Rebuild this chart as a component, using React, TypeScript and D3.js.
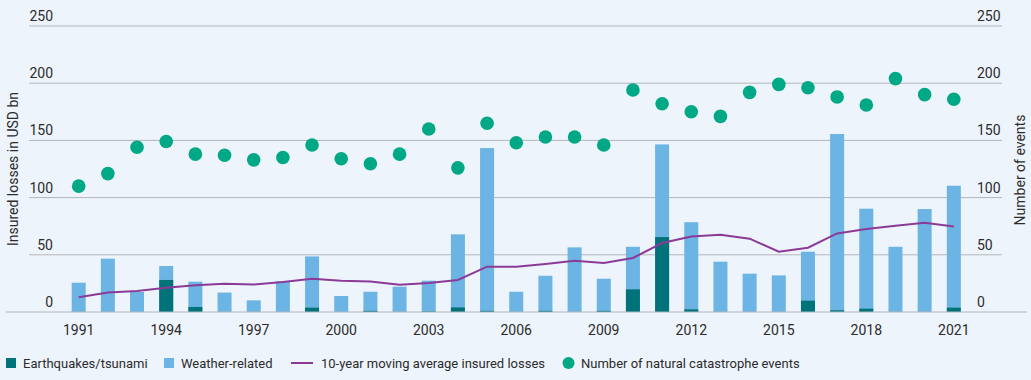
import React from "react";
import * as d3 from "d3";

const years = d3.range(1991, 2022);
const quake = [0, 0, 0, 28, 4.4, 0, 0, 0, 3.8, 0, 1, 0, 0.5, 4, 1, 0, 1, 0, 1, 19.8, 65.5, 2.3, 0, 0, 0, 9.9, 1.5, 2.9, 0, 0, 3.8];
const total = [25.6, 46.6, 17.5, 40.2, 26.5, 17, 10.2, 26.8, 48.6, 14, 17.7, 22.1, 27.4, 67.9, 143.3, 17.7, 31.7, 56.5, 29.1, 57, 146.5, 78.5, 44, 33.5, 32, 52.7, 155.6, 90.3, 57, 90, 110.4];
const movingAvg = [12.8, 17.1, 18.3, 21.2, 23.3, 24.7, 24.1, 26.2, 29.1, 27.4, 26.7, 23.9, 25.3, 28, 39.6, 39.6, 42, 44.8, 42.8, 47.2, 60.3, 66, 67.6, 64.1, 52.7, 56.2, 68.7, 72.5, 75.4, 78, 74.8];
const events = [110, 121, 144, 149, 138, 137, 133, 135, 146, 134, 129.6, 138, 160, 126, 165, 148, 153, 153, 146, 194, 182, 175, 171, 192, 199, 196, 188, 181, 204, 190, 186];
const yTicks = [0, 50, 100, 150, 200, 250];
const xTickYears = [1991, 1994, 1997, 2000, 2003, 2006, 2009, 2012, 2015, 2018, 2021];

const C = {
  bg: "#EEF4FC",
  weather: "#6CB4E4",
  quake: "#00737A",
  dot: "#00A886",
  line: "#8B3A98",
  grid: "#B4B6BA",
  text: "#2B2B2B",
};

const FONT = "Roboto, 'Liberation Sans', Arial, sans-serif";

export default function App() {
  const W = 1031, H = 380;
  const x = d3.scaleBand<number>().domain(years).range([64.1, 968.4]).paddingInner(0.52).paddingOuter(0.26);
  const y = d3.scaleLinear().domain([0, 250]).range([312, 26]);
  const cx = (yr: number) => (x(yr) as number) + x.bandwidth() / 2;
  const line = d3.line<number>().x((_, i) => cx(years[i])).y((d) => y(d));

  return (
    <svg width={W} height={H} style={{ position: "absolute", left: 0, top: 0, background: C.bg }} fontFamily={FONT}>
      <rect width={W} height={H} fill={C.bg} />
      {yTicks.map((t) => (
        <g key={t}>
          {t > 0 && <line x1={29} x2={1002} y1={y(t)} y2={y(t)} stroke={C.grid} strokeWidth={1} />}
          <text x={53} y={y(t) - 5} textAnchor="end" fontSize={14} fill={C.text}>{t}</text>
          <text x={977} y={y(t) - 5} textAnchor="start" fontSize={14} fill={C.text}>{t}</text>
        </g>
      ))}
      {years.map((yr, i) => (
        <g key={yr}>
          <rect x={x(yr)} width={x.bandwidth()} y={y(total[i])} height={y(0) - y(total[i])} fill={C.weather} />
          {quake[i] > 0 && (
            <rect x={x(yr)} width={x.bandwidth()} y={y(quake[i])} height={y(0) - y(quake[i])} fill={C.quake} />
          )}
        </g>
      ))}
      <line x1={6} x2={1027} y1={y(0)} y2={y(0)} stroke={C.grid} strokeWidth={1.2} />
      <path d={line(movingAvg) || ""} fill="none" stroke={C.line} strokeWidth={2} />
      {years.map((yr, i) => (
        <circle key={yr} cx={cx(yr)} cy={y(events[i])} r={6.8} fill={C.dot} />
      ))}
      {xTickYears.map((yr) => (
        <text key={yr} x={cx(yr)} y={335} textAnchor="middle" fontSize={14} fill={C.text}>{yr}</text>
      ))}
      <text transform={`translate(18,169) rotate(-90)`} textAnchor="middle" fontSize={14} fill={C.text}>Insured losses in USD bn</text>
      <text transform={`translate(1025,170) rotate(-90)`} textAnchor="middle" fontSize={14} fill={C.text}>Number of events</text>
      <g fontSize={13} fill={C.text}>
        <rect x={6} y={358} width={10} height={10} fill={C.quake} />
        <text x={23} y={367.5}>Earthquakes/tsunami</text>
        <rect x={164} y={358} width={10} height={10} fill={C.weather} />
        <text x={181} y={367.5}>Weather-related</text>
        <line x1={291} x2={313} y1={363} y2={363} stroke={C.line} strokeWidth={2} />
        <text x={321} y={367.5}>10-year moving average insured losses</text>
        <circle cx={568.5} cy={363} r={6} fill={C.dot} />
        <text x={581} y={367.5}>Number of natural catastrophe events</text>
      </g>
    </svg>
  );
}
